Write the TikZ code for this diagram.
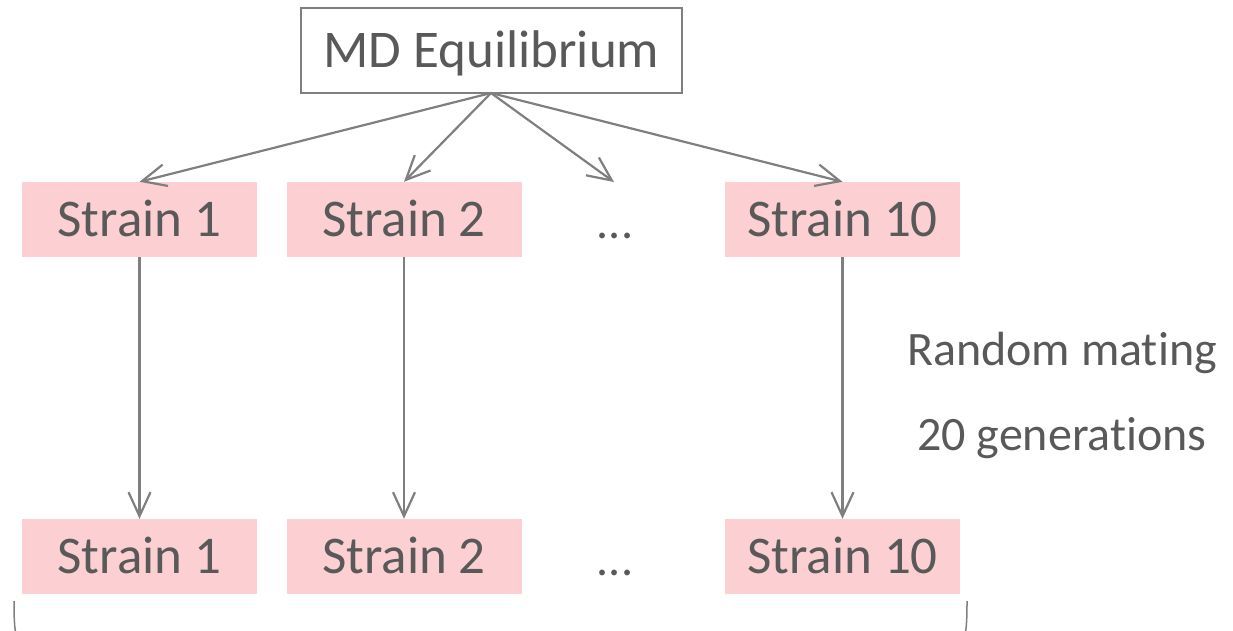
\documentclass[tikz,border=0pt]{standalone}
\usepackage{fontspec}
\setmainfont[Ligatures={NoCommon}]{Carlito}
\usetikzlibrary{arrows.meta}
\definecolor{txtgray}{HTML}{595959}
\definecolor{linegray}{HTML}{7F7F7F}
\definecolor{pinkfill}{HTML}{FCD0D2}
\tikzset{
  mdbox/.style={draw=linegray, line width=2pt, fill=white, text=txtgray, font=\fontsize{53}{60}\selectfont, text height=34pt, text depth=0pt, minimum width=381pt, minimum height=85pt, inner sep=0pt},
  strainbox/.style={fill=pinkfill, text=txtgray, font=\fontsize{53}{60}\selectfont, text height=34pt, text depth=0pt, minimum width=235pt, minimum height=75pt, inner sep=0pt},
  dotsnode/.style={text=txtgray, font=\fontsize{48}{60}\selectfont, inner sep=0pt, anchor=base},
  sidelabel/.style={text=txtgray, font=\fontsize{48}{56}\selectfont, inner sep=0pt},
  conn/.style={draw=linegray, line width=2.2pt, -{Straight Barb[length=24pt,width=22pt,line width=2.2pt]}},
}
\begin{document}
\begin{tikzpicture}[x=1pt,y=-1pt]
\useasboundingbox (0,0) rectangle (1233,630);
\clip (0,0) rectangle (1233,630);
\node[mdbox] (md) at (491.5,50.5) {MD Equilibrium};
\node[strainbox] (a1) at (139.5,219.5) {Strain 1};
\node[strainbox] (a2) at (404,219.5) {Strain 2};
\node[dotsnode] (ad) at (615,238) {...};
\node[strainbox] (a3) at (842.5,219.5) {Strain 10};
\node[strainbox] (b1) at (139.5,556.5) {Strain 1};
\node[strainbox] (b2) at (404,556.5) {Strain 2};
\node[dotsnode] (bd) at (615,575) {...};
\node[strainbox] (b3) at (842.5,556.5) {Strain 10};
\node[sidelabel] (rm) at (1062,353) {Random mating};
\node[sidelabel] (gen) at (1062,438) {20 generations};
\coordinate (mds) at (491,93);
\coordinate (adn) at (614,182);
\draw[conn] (mds) -- (a1.north);
\draw[conn] (mds) -- (a2.north);
\draw[conn] (mds) -- (adn);
\draw[conn] (mds) -- (a3.north);
\draw[conn] (a1.south) -- (b1.north);
\draw[conn] (a2.south) -- (b2.north);
\draw[conn] (a3.south) -- (b3.north);
% brace ends at the bottom
\draw[draw=linegray, line width=1.5pt] (14,601) .. controls (14,622) and (14.5,630) .. (18,645);
\draw[draw=linegray, line width=1.5pt] (967,601) .. controls (967,622) and (966.5,630) .. (963,645);
\end{tikzpicture}
\end{document}
